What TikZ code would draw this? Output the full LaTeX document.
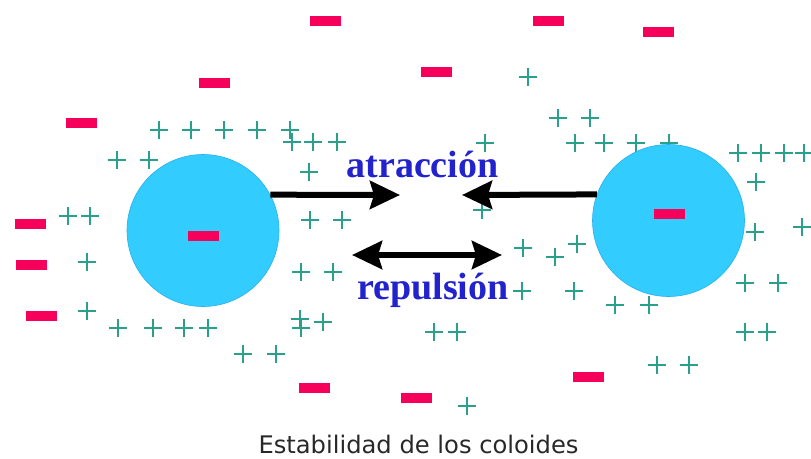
\documentclass[tikz,border=0pt]{standalone}
\usepackage{fontspec}
\setmainfont{Liberation Serif}
\newfontfamily\capfont{DejaVu Sans}
\usetikzlibrary{arrows.meta}
\definecolor{colloid}{RGB}{51,204,255}
\definecolor{colloidedge}{RGB}{40,175,240}
\definecolor{minusred}{RGB}{245,0,90}
\definecolor{plusteal}{RGB}{40,160,140}
\definecolor{labelblue}{RGB}{35,35,205}
\definecolor{captiongray}{RGB}{40,40,40}
\tikzset{
  colloidball/.style={circle,fill=colloid,draw=colloidedge,line width=0.6pt,minimum size=152pt,inner sep=0pt},
  bigarrow/.style={line width=6pt,-{Stealth[length=30pt,width=28pt,inset=4pt]}},
  bigdouble/.style={line width=6pt,{Stealth[length=30pt,width=28pt,inset=4pt]}-{Stealth[length=30pt,width=28pt,inset=4pt]}},
  forcelabel/.style={font=\fontsize{38}{40}\selectfont\bfseries,text=labelblue,inner sep=0pt,anchor=base},
  captionlabel/.style={font=\capfont\fontsize{24.2}{26}\selectfont,text=captiongray,inner sep=0pt,anchor=base},
  plusline/.style={draw=plusteal,line width=1.3pt},
  minusbar/.style={fill=minusred},
}
\begin{document}
\begin{tikzpicture}[x=1pt,y=-1pt]
\useasboundingbox (0,0) rectangle (811,458);
% positive ions
\foreach \px/\py in {159/130,191/130,224/130,257/130,290/130,
  292/142,313/142,337/142,117/160,149/160,309/172,68/216,90/216,
  310/220,342/220,87/262,301/272,333/272,87/311,
  118/328,153/328,184/328,208/328,300/319,301/328,323/322,243/354,276/354,
  528/77,558/118,590/118,485/143,575/143,604/143,636/143,669/143,
  738/153,761/153,784/153,804/153,756/182,482/210,755/232,802/227,
  523/248,555/257,577/244,522/291,574/291,615/305,649/305,
  745/283,778/283,745/332,767/332,434/332,457/332,657/365,689/365,467/406}
  {\path[plusline] (\px-9,\py) -- (\px+9,\py) (\px,\py-9) -- (\px,\py+9);}
% colloid particles
\node[colloidball] (L) at (203,230.5) {};
\node[colloidball] (R) at (668.5,220.5) {};
% negative ions
\foreach \mx/\my in {325/21,548/21,658/32,214/83,436/72,81/123,30/224,
  203/236,669/214,31/265,41/316,314/388,416/398,588/377}
  {\path[minusbar] (\mx-15.5,\my-5) rectangle (\mx+15.5,\my+5);}
% forces
\coordinate (attL) at (400,195);
\coordinate (attR) at (462,195);
\coordinate (repA) at (352,255);
\coordinate (repB) at (502,255);
\draw[bigarrow] (L.28) -- (attL);
\draw[bigarrow] (R.160) -- (attR);
\draw[bigdouble] (repA) -- (repB);
\node[forcelabel] (att) at (422.5,177) {atracción};
\node[forcelabel] (rep) at (433,299) {repulsión};
\node[captionlabel] (cap) at (418.5,453) {Estabilidad de los coloides};
\end{tikzpicture}
\end{document}
